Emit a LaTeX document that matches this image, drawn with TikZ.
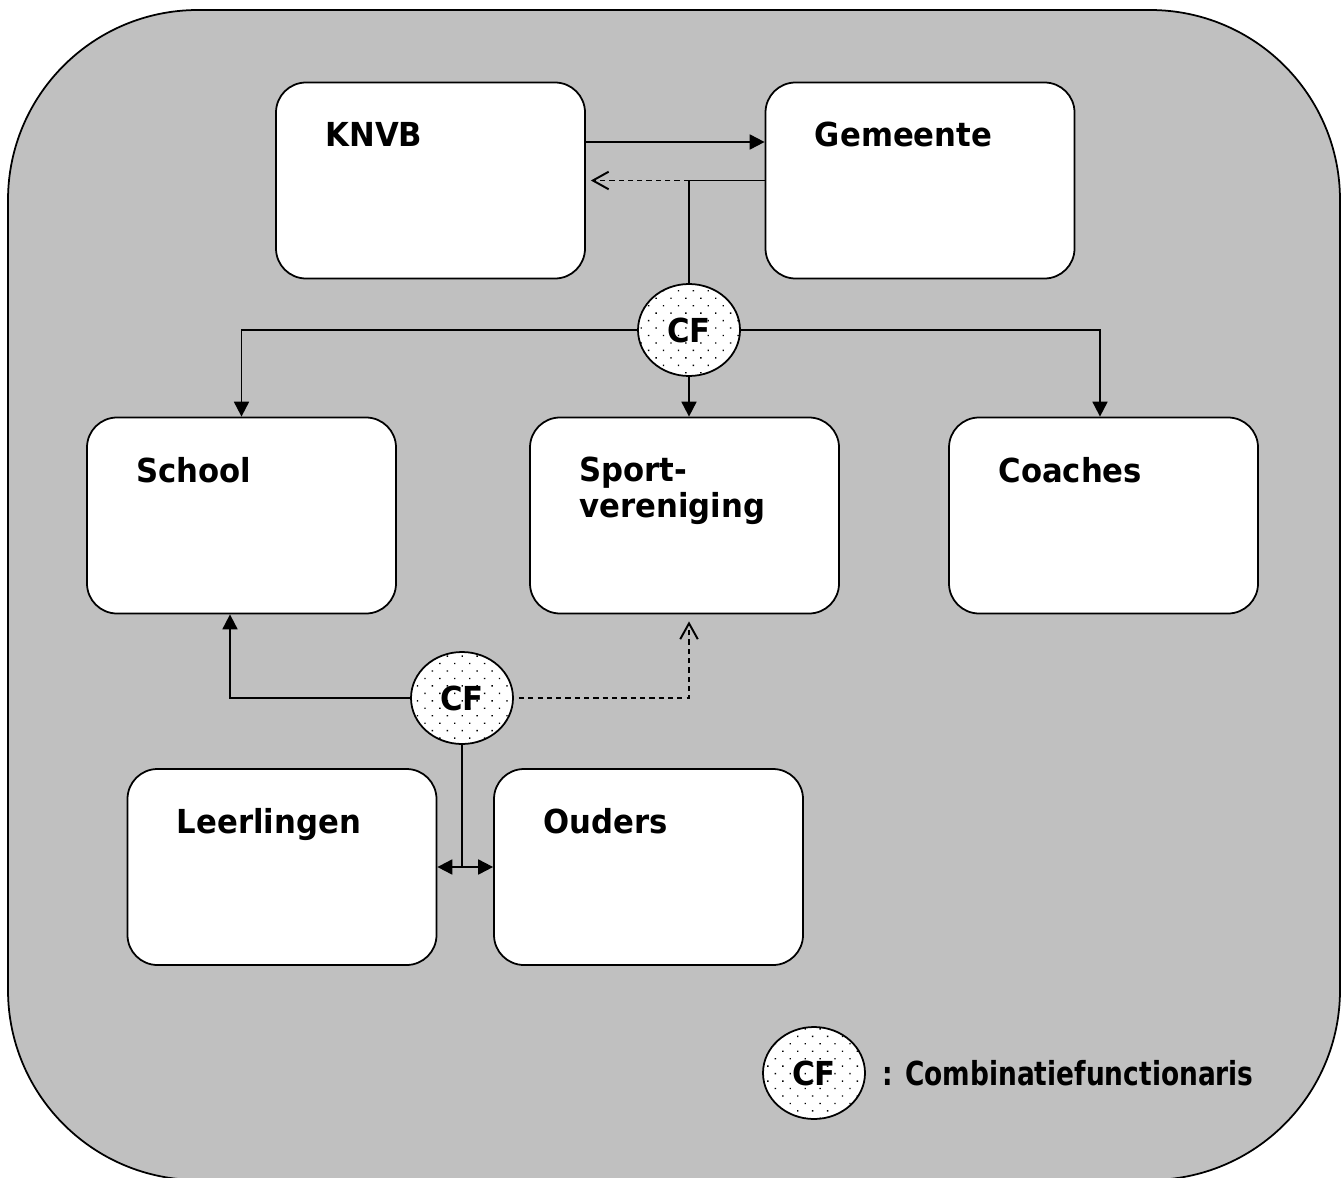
\documentclass[tikz,border=0pt]{standalone}
\usepackage{fontspec}
\newfontfamily\diagfont{DejaVu Sans}[FakeStretch=0.93]
\newfontfamily\legendfont{DejaVu Sans}[FakeStretch=0.8]
\usetikzlibrary{positioning,arrows.meta,shapes.geometric,patterns.meta}
\definecolor{bggray}{RGB}{192,192,192}
\newcommand{\lblfont}{\diagfont\bfseries\fontsize{18.8pt}{20.6pt}\selectfont}
\begin{document}
\begin{tikzpicture}[
    node distance=8cm,
    box/.style={rectangle, draw, line width=1pt, fill=white, minimum width=6.18cm, minimum height=3.92cm, rounded corners=0.6cm},
    title/.style={anchor=north west, inner sep=0pt, xshift=1cm, yshift=-0.8cm, align=left, font=\lblfont},
    cf/.style={ellipse, draw, line width=1pt, inner sep=0pt, minimum width=2.04cm, minimum height=1.84cm, font=\lblfont,
        preaction={fill=white}, pattern={Dots[distance=6pt, angle=45, radius=0.55pt]}},
    line/.style={line width=1.1pt},
    arrow/.style={-{Triangle[length=8.5pt, width=8.5pt]}, line width=1.1pt},
    dasharrow/.style={-{Straight Barb[length=9pt, width=10pt]}, line width=1.1pt, dash pattern=on 3pt off 2.3pt}
]
    \useasboundingbox (0,0) rectangle (26.88,-23.56);
    \draw[line width=1pt, fill=bggray, rounded corners=3.8cm] (0.16,-0.2) rectangle (26.8,-23.6);

    % top row
    \node[box, label={[title]north west:KNVB}] (knvb) at (8.61,-3.61) {};
    \node[box, right of=knvb, node distance=9.79cm, label={[title]north west:Gemeente}] (gemeente) {};

    % middle row
    \node[box, label={[title]north west:School}] (school) at (4.83,-10.31) {};
    \node[box, right of=school, node distance=8.86cm, label={[title]north west:{Sport-\\vereniging}}] (sport) {};
    \node[box, right of=sport, node distance=8.38cm, label={[title]north west:Coaches}] (coaches) {};

    % bottom row
    \node[box, label={[title]north west:Leerlingen}] (leerlingen) at (5.64,-17.34) {};
    \node[box, right of=leerlingen, node distance=7.33cm, label={[title]north west:Ouders}] (ouders) {};

    % combinatiefunctionarissen
    \node[cf] (cf1) at (13.78,-6.60) {CF};
    \node[cf] (cf2) at (9.24,-13.96) {CF};
    \coordinate (knik1) at (cf1.north |- gemeente.west);
    \coordinate (knik2) at (cf2.south |- leerlingen.east);

    \draw[arrow] ([yshift=0.77cm]knvb.east) -- ([yshift=0.77cm]gemeente.west);
    \draw[line] (gemeente.west) -- (knik1) -- (cf1.north);
    \draw[dasharrow, shorten >=0.1cm] (knik1) -- (knik1 -| knvb.east);
    \draw[arrow] (cf1.west) -| (school.north);
    \draw[arrow] (cf1.east) -| ([xshift=-0.07cm]coaches.north);
    \draw[arrow] (cf1.south) -- (cf1.south |- sport.north);

    \draw[arrow] (cf2.west) -| ([xshift=-0.23cm]school.south);
    \draw[dasharrow, shorten <=0.1cm, shorten >=0.14cm] (cf2.east) -| (cf1.south |- sport.south);
    \draw[line] (cf2.south) -- (knik2);
    \draw[{Triangle[length=8.5pt, width=8.5pt]}-{Triangle[length=8.5pt, width=8.5pt]}, line width=1.1pt] (leerlingen.east) -- (ouders.west);

    % legenda
    \node[cf] (legendcf) at (16.28,-21.46) {CF};
    \node[anchor=base west, inner sep=0pt, font=\legendfont\bfseries\fontsize{18.8pt}{19.4pt}\selectfont] (legendtext) at (17.64,-21.70) {: Combinatiefunctionaris};
\end{tikzpicture}
\end{document}
